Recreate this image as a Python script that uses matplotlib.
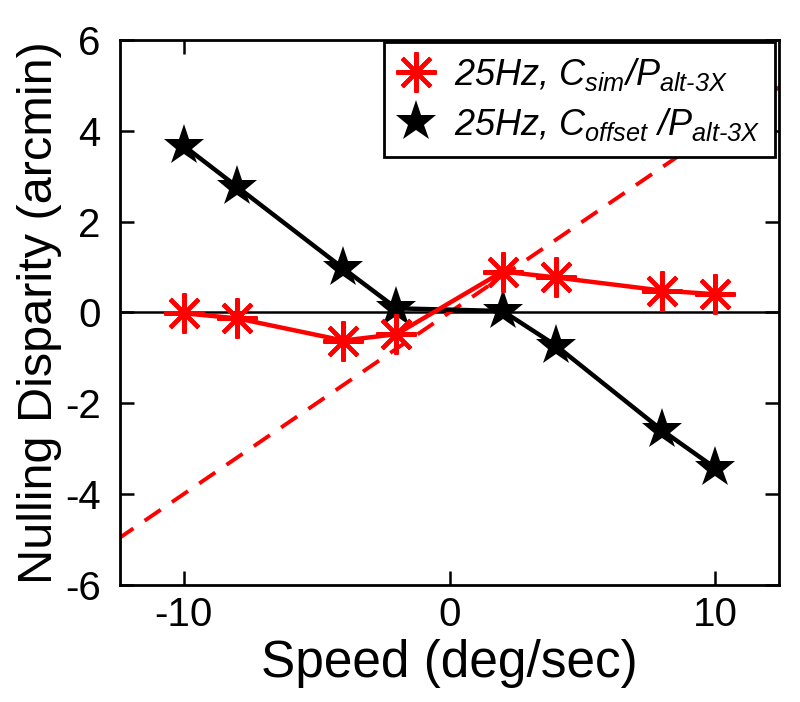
import matplotlib
matplotlib.use("Agg")
import matplotlib.pyplot as plt
import numpy as np

plt.rcParams['font.family'] = ['Liberation Sans', 'DejaVu Sans']
plt.rcParams['mathtext.fontset'] = 'custom'
plt.rcParams['mathtext.rm'] = 'Liberation Sans:italic'
plt.rcParams['mathtext.it'] = 'Liberation Sans:italic'
plt.rcParams['axes.unicode_minus'] = False

# speeds (deg/sec)
speed = [-10, -8, -4, -2, 2, 4, 8, 10]
# nulling disparity (arcmin)
sim_vals = [-0.02, -0.13, -0.62, -0.48, 0.90, 0.77, 0.48, 0.40]
offset_vals = [3.67, 2.77, 0.97, 0.09, 0.03, -0.73, -2.60, -3.43]
# dashed reference line
ref_x = [-12.5, 12.5]
ref_slope = 0.4

label_sim = r'25Hz, $C_{sim}$/$P_{alt\text{-}3X}$'
label_off = r'25Hz, $C_{offset}$ /$P_{alt\text{-}3X}$'

fig = plt.figure(figsize=(8, 7.02), dpi=100)
ax = fig.add_axes([0.15, 0.167, 0.824, 0.776])

ax.axhline(0, color='black', lw=1.8, zorder=1)
ax.plot(speed, offset_vals, color='black', lw=3.2, marker='*', markersize=31,
        markeredgewidth=0, label=label_off, zorder=3)
ax.plot(ref_x, [ref_slope * v for v in ref_x], color='red', lw=2.8,
        dashes=(5, 3.5), zorder=2)
ax.plot(speed, sim_vals, color='red', lw=3.2, marker=(8, 2, 0), markersize=29,
        markeredgewidth=3, label=label_sim, zorder=4)

ax.set_xlim(-12.4, 12.4)
ax.set_ylim(-6, 6)
ax.set_xticks([-10, 0, 10])
ax.set_yticks([-6, -4, -2, 0, 2, 4, 6])
ax.tick_params(direction='in', length=10, width=1.8, labelsize=29,
               top=True, right=True)
ax.tick_params(axis='y', pad=14)
ax.tick_params(axis='x', pad=8)
for s in ax.spines.values():
    s.set_linewidth(2)

ax.set_xlabel('Speed (deg/sec)', fontsize=37, labelpad=4)
ax.set_ylabel('Nulling Disparity (arcmin)', fontsize=35, labelpad=2)

h, l = ax.get_legend_handles_labels()
leg = ax.legend([h[1], h[0]], [l[1], l[0]], loc='upper right',
                bbox_to_anchor=(0.994, 0.997), borderaxespad=0,
                fancybox=False, framealpha=1, edgecolor='black',
                handlelength=1.0, handletextpad=0.55, borderpad=0.4,
                labelspacing=0.35, prop={'style': 'italic', 'size': 26})
leg.get_frame().set_linewidth(2)
leg.set_zorder(10)
for lh in leg.legend_handles:
    lh.set_linestyle('none')

fig.savefig('out.png', dpi=100)
